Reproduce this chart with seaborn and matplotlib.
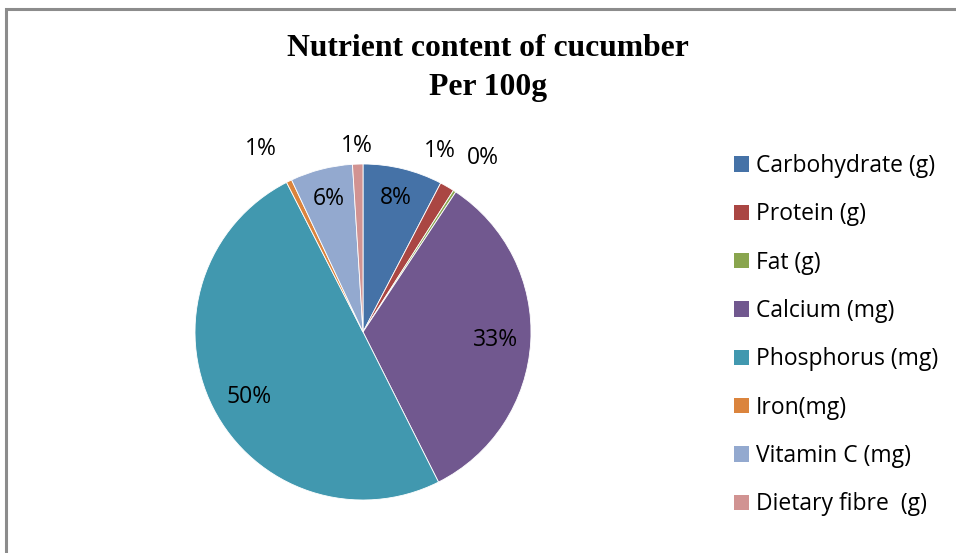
import numpy as np
import matplotlib
matplotlib.use("Agg")
import matplotlib.pyplot as plt
from matplotlib.patches import Rectangle, Patch
import seaborn as sns

# Nutrient amounts per 100 g of cucumber
nutrients = ["Carbohydrate (g)", "Protein (g)", "Fat (g)", "Calcium (mg)",
             "Phosphorus (mg)", "Iron(mg)", "Vitamin C (mg)", "Dietary fibre  (g)"]
amounts = [2.3, 0.42, 0.08, 10, 15, 0.16, 1.8, 0.3]
colors = ["#4572A7", "#AA4643", "#89A54E", "#71588F",
          "#4198AF", "#DB843D", "#93A9CF", "#D19392"]

title_lines = ["Nutrient content of cucumber", "Per 100g"]

# label placement: radius (in pie radii) and clockwise nudge in degrees
label_radius = [0.82, 1.17, 1.26, 0.79, 0.78, 1.25, 0.82, 1.11]
label_nudge = [0, -7, 1.5, 0, -3, -3, 0, 0]

sns.set_theme(style="white")
plt.rcParams["font.family"] = ["Open Sans", "DejaVu Sans"]
plt.rcParams["text.color"] = "black"

W, H = 956, 553
fig = plt.figure(figsize=(W / 100, H / 100), dpi=100)
fig.patch.set_facecolor("white")

# chart frame
fig.add_artist(Rectangle((5.5 / W, -0.05), 1.1, (H - 8.5) / H + 0.05,
                         transform=fig.transFigure, fill=False,
                         edgecolor="#8c8c8c", linewidth=2.2))

cx, cy, R = 363, 332, 168
ax = fig.add_axes([(cx - R) / W, (H - cy - R) / H, 2 * R / W, 2 * R / H])

wedges, _ = ax.pie(amounts, colors=colors, startangle=90, counterclock=False,
                   radius=1.0, wedgeprops=dict(edgecolor="white", linewidth=0.6))
ax.set_xlim(-1, 1)
ax.set_ylim(-1, 1)
ax.axis("off")

total = float(np.sum(amounts))
for w, a, r, nudge in zip(wedges, amounts, label_radius, label_nudge):
    mid = np.deg2rad((w.theta1 + w.theta2) / 2 - nudge)
    pct = 100 * a / total
    ax.text(r * np.cos(mid), r * np.sin(mid), f"{int(pct + 0.5)}%",
            ha="center", va="center", fontsize=16.5, color="black")

for line, ty in zip(title_lines, [49, 87]):
    fig.text(488 / W, 1 - ty / H, line, ha="center", va="center",
             fontsize=22.8, fontweight="bold", family=["Liberation Serif"],
             color="black")

handles = [Patch(facecolor=c, edgecolor="none") for c in colors]
fig.legend(handles, nutrients, loc="upper left",
           bbox_to_anchor=(725 / W, 1 - 145 / H), frameon=False,
           fontsize=16.5, handlelength=0.65, handleheight=0.65,
           handletextpad=0.3, labelspacing=1.06, borderaxespad=0,
           labelcolor="black")

fig.savefig("out.png", dpi=100)
